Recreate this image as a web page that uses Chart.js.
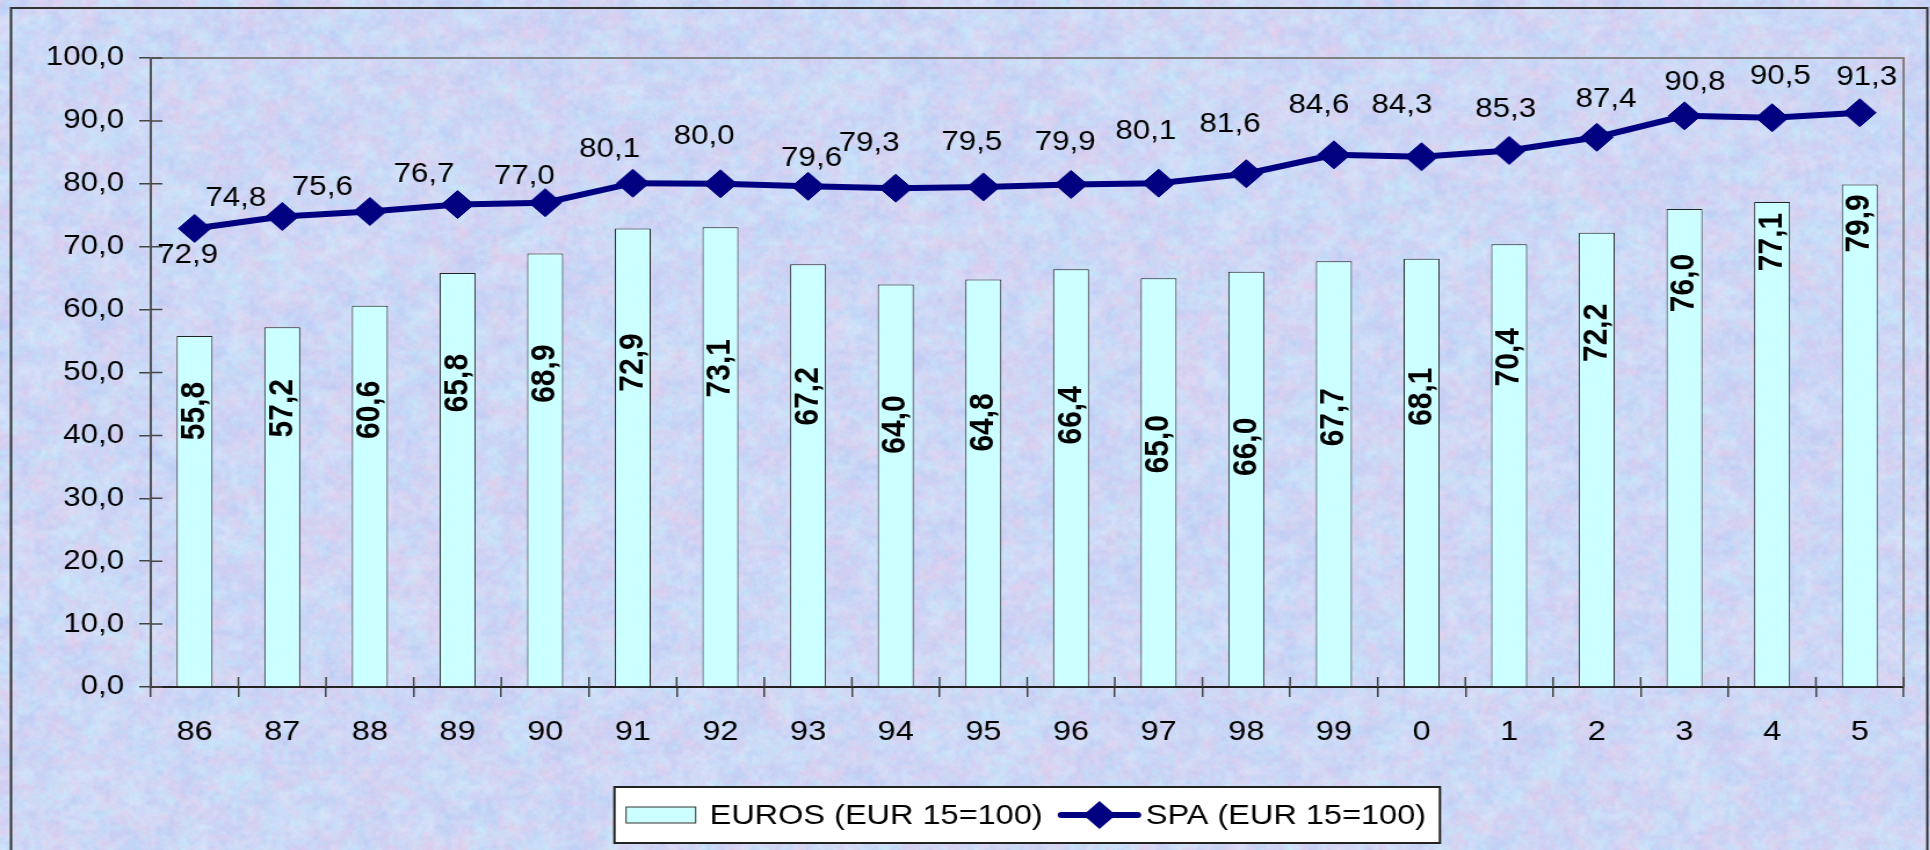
<!DOCTYPE html>
<html>
<head>
<meta charset="utf-8">
<script src="https://cdn.jsdelivr.net/npm/chart.js@4/dist/chart.umd.min.js"></script>
<style>
  html, body { margin:0; padding:0; overflow:hidden; background:#cfd9f5; }
  /* le graphique d'origine est etire en largeur : on fait pareil */
  #wrap { position:absolute; left:0; top:0; width:1664px; height:850px; transform:scaleX(1.16); transform-origin:0 0; }
</style>
</head>
<body>
<div id="wrap"><canvas id="myChart"></canvas></div>
<script>
// donnees
const annees = ['86','87','88','89','90','91','92','93','94','95','96','97','98','99','0','1','2','3','4','5'];
const euros = [55.8, 57.2, 60.6, 65.8, 68.9, 72.9, 73.1, 67.2, 64.0, 64.8, 66.4, 65.0, 66.0, 67.7, 68.1, 70.4, 72.2, 76.0, 77.1, 79.9];
const spa = [72.9, 74.8, 75.6, 76.7, 77.0, 80.1, 80.0, 79.6, 79.3, 79.5, 79.9, 80.1, 81.6, 84.6, 84.3, 85.3, 87.4, 90.8, 90.5, 91.3];
const yMin = 0, yMax = 100, yStep = 10;

// placement des etiquettes (comme dans excel, deplacees a la main)
const decalSpa = [[-6,27],[-40,-18],[-41,-24],[-29,-30],[-18,-26],[-20,-34],[-14,-47],[3,-28],[-23,-45],[-10,-44],
                  [-5,-42],[-11,-52],[-14,-49],[-13,-49],[-17,-51],[-3,-41],[8,-38],[9,-33],[7,-41],[6,-35]];
const descenteEuros = [75,81,104,110,120,134,141,132,140,143,146,166,175,156,138,113,100,74,40,39];

const police = "'Liberation Sans', Arial, sans-serif";
const virgule = v => Number(v).toFixed(1).replace('.', ',');

// fond texture pastel (grain fixe, seulement decoratif)
function grain(w, h) {
  let s = 1234567;
  const rnd = () => {
    s |= 0; s = s + 0x6D2B79F5 | 0;
    let t = Math.imul(s ^ s >>> 15, 1 | s);
    t = t + Math.imul(t ^ t >>> 7, 61 | t) ^ t;
    return ((t ^ t >>> 14) >>> 0) / 4294967296;
  };
  const tons = [[196,234,250],[210,204,242],[228,206,236],[186,204,246],[218,228,250],[200,218,248]];
  function couche(f) {
    const p = document.createElement('canvas');
    p.width = Math.ceil(w / f); p.height = Math.ceil(h / f);
    const pg = p.getContext('2d');
    const img = pg.createImageData(p.width, p.height);
    for (let i = 0; i < p.width * p.height; i++) {
      const c = tons[Math.floor(rnd() * tons.length)];
      img.data[i * 4] = c[0]; img.data[i * 4 + 1] = c[1]; img.data[i * 4 + 2] = c[2]; img.data[i * 4 + 3] = 255;
    }
    pg.putImageData(img, 0, 0);
    return p;
  }
  const c = document.createElement('canvas');
  c.width = w; c.height = h;
  const g = c.getContext('2d');
  g.imageSmoothingEnabled = true;
  g.fillStyle = '#cfd9f5';
  g.fillRect(0, 0, w, h);
  g.globalAlpha = 1;
  g.drawImage(couche(14), 0, 0, w, h);
  g.globalAlpha = 0.5;
  g.drawImage(couche(5), 0, 0, w, h);
  g.globalAlpha = 0.25;
  g.drawImage(couche(2), 0, 0, w, h);
  g.globalAlpha = 1;
  return c;
}
let texture = null;

const fond = {
  id: 'fond',
  beforeDraw(chart) {
    if (!texture) texture = grain(chart.width, chart.height);
    chart.ctx.drawImage(texture, 0, 0);
  }
};

const cadre = {
  id: 'cadre',
  beforeDatasetsDraw(chart) {
    const ctx = chart.ctx, a = chart.chartArea;
    ctx.save();
    // cadre exterieur
    ctx.strokeStyle = '#333';
    ctx.lineWidth = 2;
    ctx.strokeRect(9.5, 8, 1652, 900);
    // haut et droite de la zone de trace
    ctx.strokeStyle = '#808080';
    ctx.beginPath();
    ctx.moveTo(a.left, a.top);
    ctx.lineTo(a.right, a.top);
    ctx.lineTo(a.right, a.bottom);
    ctx.stroke();
    // petits traits vers l'interieur
    ctx.strokeStyle = '#444';
    ctx.lineWidth = 1.5;
    const y = chart.scales.y;
    ctx.beginPath();
    y.ticks.forEach(t => {
      const py = y.getPixelForValue(t.value);
      ctx.moveTo(a.left, py); ctx.lineTo(a.left + 10, py);
    });
    const pas = (a.right - a.left) / annees.length;
    for (let i = 0; i <= annees.length; i++) {
      const px = a.left + i * pas;
      ctx.moveTo(px, a.bottom); ctx.lineTo(px, a.bottom - 10);
    }
    ctx.stroke();
    ctx.restore();
  }
};

const etiquettes = {
  id: 'etiquettes',
  afterDatasetsDraw(chart) {
    const ctx = chart.ctx;
    ctx.save();
    ctx.fillStyle = '#000';
    // barres : texte gras vertical
    ctx.font = 'bold 30px ' + police;
    ctx.textAlign = 'center';
    ctx.textBaseline = 'middle';
    chart.getDatasetMeta(1).data.forEach((el, i) => {
      ctx.save();
      ctx.translate(el.x, el.y + descenteEuros[i]);
      ctx.rotate(-Math.PI / 2);
      ctx.fillText(virgule(euros[i]), 0, 0);
      ctx.restore();
    });
    // ligne
    ctx.font = '27px ' + police;
    chart.getDatasetMeta(0).data.forEach((el, i) => {
      ctx.fillText(virgule(spa[i]), el.x + decalSpa[i][0], el.y + decalSpa[i][1]);
    });
    ctx.restore();
  }
};

const legende = {
  id: 'legende',
  afterDraw(chart) {
    const ctx = chart.ctx, a = chart.chartArea;
    ctx.save();
    ctx.font = '28px ' + police;
    const t1 = chart.data.datasets[1].label, t2 = chart.data.datasets[0].label;
    const w1 = ctx.measureText(t1).width, w2 = ctx.measureText(t2).width;
    const larg = 10 + 60 + 12 + w1 + 16 + 66 + 7 + w2 + 12;
    const x0 = (a.left + a.right) / 2 - larg / 2;
    const top = 787, h = 56, cy = top + h / 2;
    ctx.fillStyle = '#fff';
    ctx.fillRect(x0, top, larg, h);
    ctx.strokeStyle = '#222';
    ctx.lineWidth = 2;
    ctx.strokeRect(x0, top, larg, h);
    let x = x0 + 10;
    ctx.fillStyle = '#ccffff';
    ctx.fillRect(x, cy - 8, 60, 16);
    ctx.strokeStyle = '#333';
    ctx.lineWidth = 1;
    ctx.strokeRect(x, cy - 8, 60, 16);
    x += 72;
    ctx.fillStyle = '#000';
    ctx.textBaseline = 'middle';
    ctx.fillText(t1, x, cy + 1);
    x += w1 + 16;
    ctx.strokeStyle = '#000080';
    ctx.lineWidth = 6;
    ctx.lineCap = 'round';
    ctx.beginPath();
    ctx.moveTo(x, cy); ctx.lineTo(x + 66, cy);
    ctx.stroke();
    ctx.fillStyle = '#000080';
    ctx.beginPath();
    ctx.moveTo(x + 33 - 14, cy); ctx.lineTo(x + 33, cy - 14); ctx.lineTo(x + 33 + 14, cy); ctx.lineTo(x + 33, cy + 14);
    ctx.closePath();
    ctx.fill();
    x += 73;
    ctx.fillStyle = '#000';
    ctx.fillText(t2, x, cy + 1);
    ctx.restore();
  }
};

const ctx = document.getElementById('myChart').getContext('2d');
const myChart = new Chart(ctx, {
  data: {
    labels: annees,
    datasets: [
      {
        type: 'line',
        label: 'SPA (EUR 15=100)',
        data: spa,
        borderColor: '#000080',
        borderWidth: 6,
        pointStyle: 'rectRot',
        pointRadius: 14,
        pointBackgroundColor: '#000080',
        pointBorderColor: '#000080',
        pointBorderWidth: 1,
        tension: 0,
        order: 0
      },
      {
        type: 'bar',
        label: 'EUROS (EUR 15=100)',
        data: euros,
        backgroundColor: '#ccffff',
        borderColor: '#222',
        borderWidth: 1,
        barPercentage: 0.41,
        categoryPercentage: 1,
        order: 1
      }
    ]
  },
  options: {
    responsive: true,
    maintainAspectRatio: false,
    animation: false,
    layout: { padding: { top: 58, right: 23, left: 0, bottom: 0 } },
    plugins: { legend: { display: false }, tooltip: { enabled: false } },
    scales: {
      x: {
        offset: true,
        grid: { offset: true, drawOnChartArea: false, tickLength: 10, color: '#444', lineWidth: 1.5 },
        border: { color: '#222', width: 2 },
        ticks: { color: '#000', font: { family: police, size: 28 }, padding: 18, maxRotation: 0, autoSkip: false },
        afterFit: s => { s.height = 163; }
      },
      y: {
        min: yMin,
        max: yMax,
        grid: { drawOnChartArea: false, tickLength: 10, color: '#444', lineWidth: 1.5 },
        border: { color: '#555', width: 2 },
        ticks: { stepSize: yStep, color: '#000', font: { family: police, size: 27 }, padding: 13, callback: v => virgule(v) },
        afterFit: s => { s.width = 130; }
      }
    }
  },
  plugins: [fond, cadre, etiquettes, legende]
});
</script>
</body>
</html>
